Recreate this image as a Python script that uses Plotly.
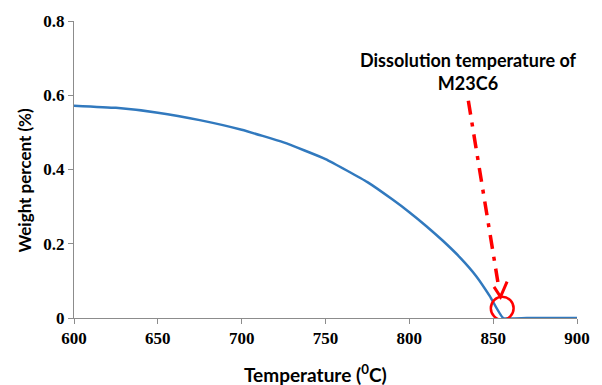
import plotly.graph_objects as go

temperature = [600, 625, 650, 675, 700, 725, 750, 775, 790, 800, 810, 820, 830, 840, 848, 856, 870, 900]
weight_pct = [0.572, 0.566, 0.553, 0.533, 0.507, 0.473, 0.428, 0.366, 0.319, 0.285, 0.248, 0.208, 0.164, 0.112, 0.059, 0.0, 0.0, 0.0]

x_ticks = [600, 650, 700, 750, 800, 850, 900]
y_ticks = [0, 0.2, 0.4, 0.6, 0.8]
y_tick_text = ["0", "0.2", "0.4", "0.6", "0.8"]

circle_center = (855.4, 0.026)
arrow_start = (835.2, 0.585)
arrow_tip = (854.4, 0.057)

fig = go.Figure()
fig.add_trace(go.Scatter(x=temperature, y=weight_pct, mode="lines",
                         line=dict(color="#3179BE", width=2.5, shape="spline", smoothing=0.4),
                         showlegend=False, hoverinfo="skip"))

axis_common = dict(showgrid=False, zeroline=False, showline=True, linecolor="#8C8C8C",
                   linewidth=1, ticks="outside", tickcolor="#8C8C8C", ticklen=5,
                   tickfont=dict(family="Liberation Serif", size=17, color="black", weight="bold"))

fig.update_xaxes(range=[600, 900], tickvals=x_ticks, **axis_common)
fig.update_yaxes(range=[0, 0.8], tickvals=y_ticks, ticktext=y_tick_text, **axis_common)

# dash-dot arrow line
fig.add_shape(type="line", x0=arrow_start[0], y0=arrow_start[1], x1=arrow_tip[0] - 1.6, y1=arrow_tip[1] + 0.04,
              xref="x", yref="y", line=dict(color="#FF0000", width=3.5, dash="14px,8px,4px,8px"))
# open V arrowhead
fig.add_shape(type="path",
              path=f"M {arrow_tip[0]-3.9},{arrow_tip[1]+0.027} L {arrow_tip[0]},{arrow_tip[1]} L {arrow_tip[0]+3.9},{arrow_tip[1]+0.041}",
              xref="x", yref="y", line=dict(color="#FF0000", width=3))
# circle
fig.add_shape(type="circle", x0=circle_center[0] - 6.8, x1=circle_center[0] + 6.8,
              y0=circle_center[1] - 0.031, y1=circle_center[1] + 0.031,
              xref="x", yref="y", line=dict(color="#FF0000", width=2.5))

fig.add_annotation(x=835, y=0.663, xref="x", yref="y", showarrow=False,
                   text="Dissolution temperature of<br>M23C6",
                   font=dict(family="Lato", size=18, color="black", weight="bold"))

fig.add_annotation(x=(321 - 74) / (588 - 74), y=(318 - 374) / (318 - 20), xref="paper", yref="paper",
                   xanchor="center", yanchor="middle",
                   showarrow=False, text="Temperature (<sup>0</sup>C)",
                   font=dict(family="Lato", size=19, color="black", weight="bold"))

fig.add_annotation(x=(23 - 74) / (588 - 74), y=(318 - 180) / (318 - 20), xref="paper", yref="paper",
                   xanchor="center", yanchor="middle",
                   showarrow=False, text="Weight percent (%)", textangle=-90,
                   font=dict(family="Lato", size=17, color="black", weight="bold"))

fig.update_layout(width=602, height=385, margin=dict(l=74, r=14, t=20, b=67),
                  plot_bgcolor="white", paper_bgcolor="white")

fig.write_html("out.html")
